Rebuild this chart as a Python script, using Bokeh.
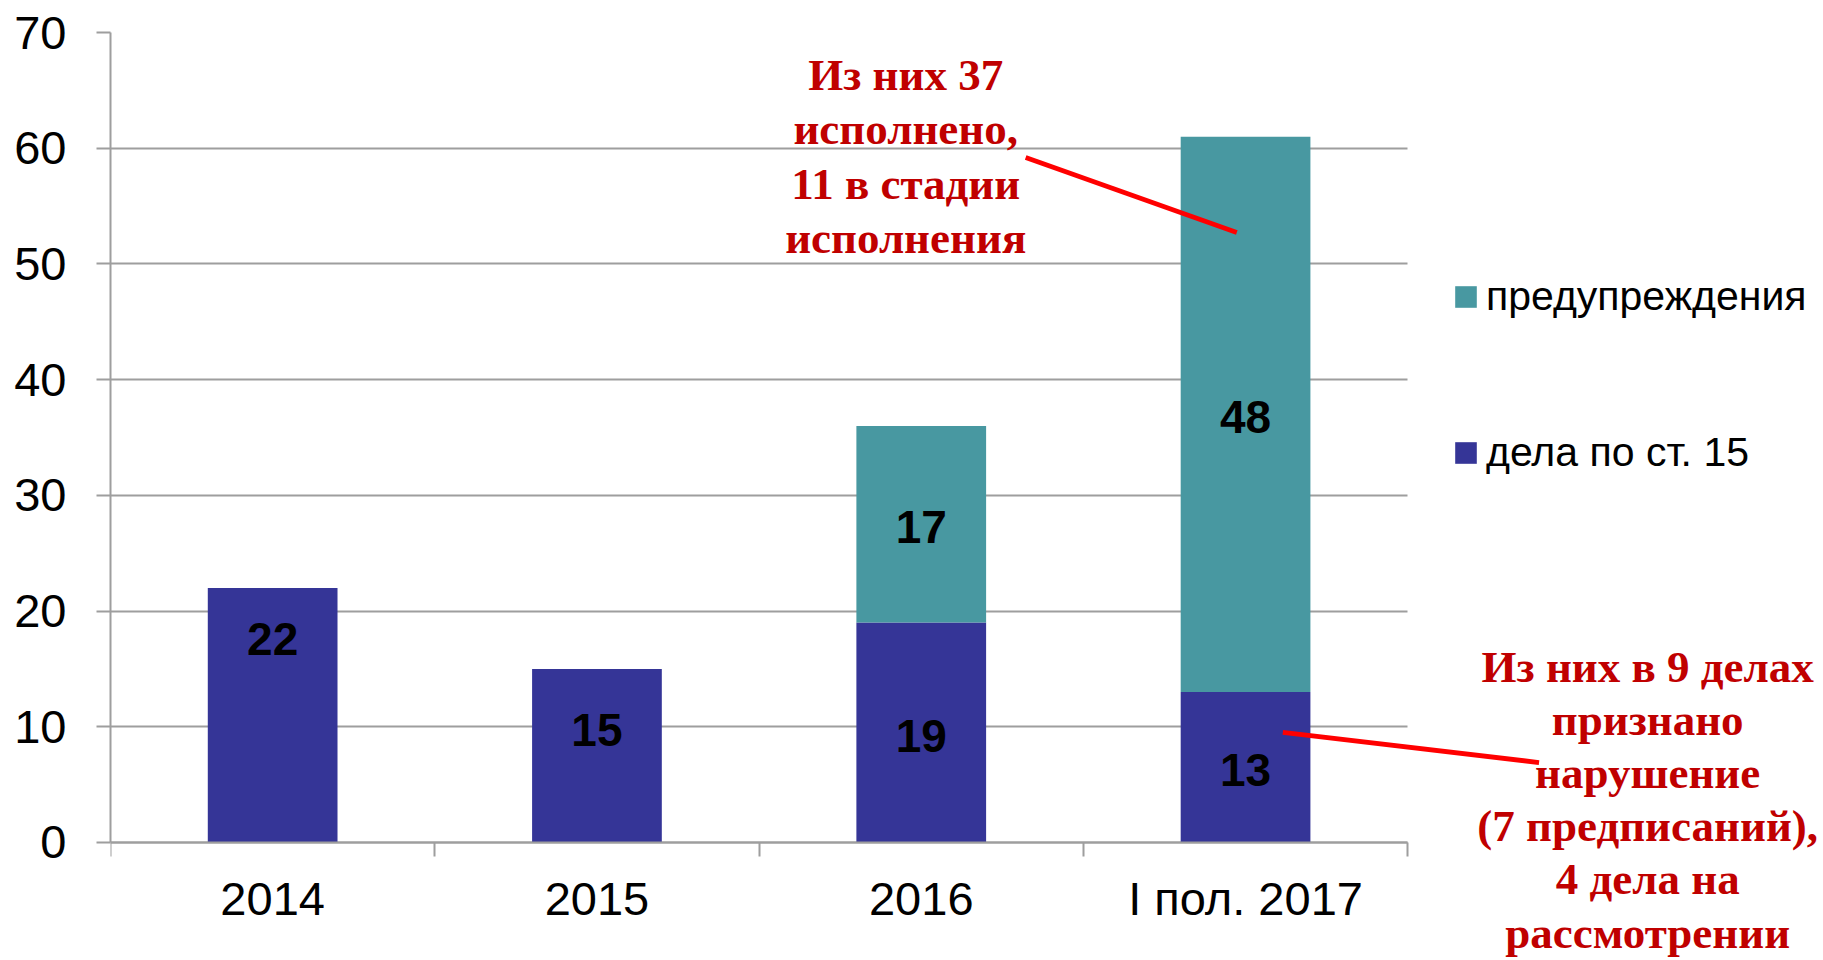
from bokeh.plotting import figure
from bokeh.models import Range1d, FixedTicker, Legend, LegendItem, ColumnDataSource
from bokeh.embed import file_html
from bokeh.resources import INLINE
from bokeh.core.properties import value

# ---------------- data ----------------
categories = ["2014", "2015", "2016", "I пол. 2017"]
cases_st15 = [22, 15, 19, 13]          # дела по ст. 15
warnings_ = [0, 0, 17, 48]              # предупреждения
y_ticks = [0, 10, 20, 30, 40, 50, 60, 70]
legend_labels = ["предупреждения", "дела по ст. 15"]
note_top = ["Из них 37", "исполнено,", "11 в стадии", "исполнения"]
note_bottom = ["Из них в 9 делах", "признано", "нарушение",
               "(7 предписаний),", "4 дела на", "рассмотрении"]

# ---------------- style / layout ----------------
BLUE = "#353597"
TEAL = "#4898A1"
GRID = "#9E9E9E"
RED_TXT = "#C00000"
W, H = 1820, 958
LEFT, TOP = 110, 32
PX_X = 324.3      # px per category slot
PX_Y = 11.571     # px per unit
frame_w = W - LEFT
frame_h = H - TOP

p = figure(width=W, height=H, output_backend="svg", toolbar_location=None,
           x_range=Range1d(0.5, 0.5 + frame_w / PX_X),
           y_range=Range1d(70 - frame_h / PX_Y, 70),
           min_border_left=LEFT, min_border_right=0,
           min_border_top=TOP, min_border_bottom=0)
p.outline_line_color = None
p.xgrid.visible = False

x = [i + 1 for i in range(len(categories))]
src = ColumnDataSource(dict(x=x, st15=cases_st15, warn=warnings_))
rs = p.vbar_stack(["st15", "warn"], x="x", width=0.4, source=src,
                  fill_color=[BLUE, TEAL], line_color=None)

# value labels
bottom_shift = [6.58, 2.24, -0.26, -0.2]
top_shift = [0, 0, -0.2, -0.2]
lx, ly, lt = [], [], []
for i in range(len(x)):
    lx.append(x[i]); ly.append(cases_st15[i] / 2 + bottom_shift[i]); lt.append(str(cases_st15[i]))
    if warnings_[i] > 0:
        lx.append(x[i]); ly.append(cases_st15[i] + warnings_[i] / 2 + top_shift[i]); lt.append(str(warnings_[i]))
p.text(x=lx, y=ly, text=lt, text_font=value("Liberation Sans"), text_font_style="bold",
       text_font_size="46px", text_color="black", text_align="center", text_baseline="middle")

# annotations
p.text(x=[2.952] * len(note_top), y=[66.36 - i * 4.72 for i in range(len(note_top))], text=note_top,
       text_font=value("Liberation Serif"), text_font_style="bold", text_font_size="45px",
       text_color=RED_TXT, text_align="center", text_baseline="alphabetic")
p.text(x=[5.24] * len(note_bottom), y=[15.2 - i * 4.6 for i in range(len(note_bottom))], text=note_bottom,
       text_font=value("Liberation Serif"), text_font_style="bold", text_font_size="45px",
       text_color=RED_TXT, text_align="center", text_baseline="alphabetic")
p.segment(x0=[3.322, 4.115], y0=[59.2, 9.51], x1=[3.973, 4.905], y1=[52.72, 6.91],
          line_color="#FF0000", line_width=4.8)

# axes
xa = p.xaxis[0]
xa.ticker = FixedTicker(ticks=x, minor_ticks=[0.5 + i for i in range(len(x) + 1)])
xa.major_label_overrides = {xi: c for xi, c in zip(x, categories)}
xa.major_tick_out = 0
xa.major_tick_in = 0
xa.minor_tick_out = 14
xa.minor_tick_in = 0
xa.fixed_location = 0
xa.bounds = (0.5, 4.5)
xa.axis_line_color = GRID
xa.axis_line_width = 2
xa.minor_tick_line_color = GRID
xa.minor_tick_line_width = 2
xa.major_label_standoff = 16
xa.major_label_text_font = "Liberation Sans"
xa.major_label_text_font_size = "47px"
xa.major_label_text_color = "black"

ya = p.yaxis[0]
ya.ticker = FixedTicker(ticks=y_ticks)
ya.bounds = (0, 70)
ya.major_tick_out = 14
ya.major_tick_in = 0
ya.minor_tick_out = 0
ya.minor_tick_in = 0
ya.axis_line_color = GRID
ya.axis_line_width = 2
ya.major_tick_line_color = GRID
ya.major_tick_line_width = 2
ya.major_label_standoff = 30
ya.major_label_text_font = "Liberation Sans"
ya.major_label_text_font_size = "47px"
ya.major_label_text_color = "black"

p.ygrid.grid_line_color = GRID
p.ygrid.grid_line_width = 2
p.ygrid.cross_bounds = (0.5, 4.5)

legend = Legend(items=[LegendItem(label=legend_labels[0], renderers=[rs[1]]),
                       LegendItem(label=legend_labels[1], renderers=[rs[0]])],
                location=(1342, 482), orientation="vertical", padding=0, margin=0,
                spacing=109, glyph_width=27, glyph_height=27, label_standoff=7,
                label_text_font="Liberation Sans", label_text_font_size="41px",
                label_text_color="black",
                border_line_color=None, background_fill_alpha=0)
p.add_layout(legend)

open("out.html", "w").write(file_html(p, INLINE))
